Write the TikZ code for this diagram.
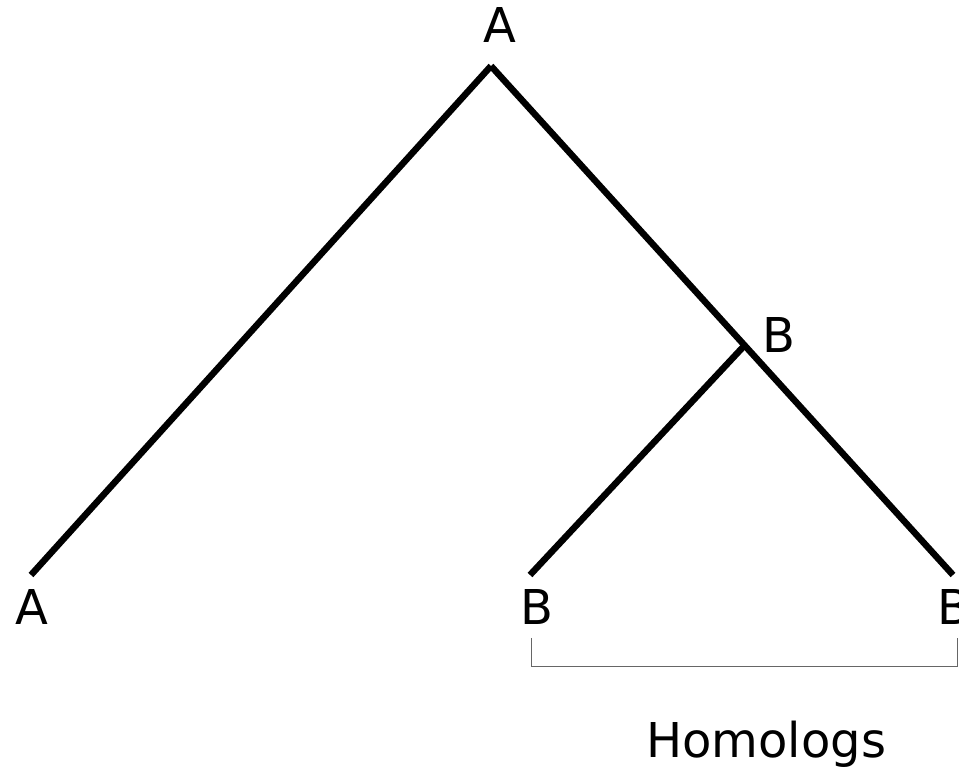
\documentclass[tikz,border=0pt]{standalone}
\usepackage{fontspec}
\setmainfont{DejaVu Sans}
\begin{document}
\begin{tikzpicture}[x=1pt,y=1pt,
  edge/.style={line width=6.5pt,line cap=butt},
  lbl/.style={anchor=base west,inner sep=0pt,font=\fontsize{48}{52}\selectfont},
  bracket/.style={line width=1pt,draw=black!60}]
\useasboundingbox (0,0) rectangle (959,768);
% tree points
\coordinate (root) at (491,702);
\coordinate (nb) at (744,422);
\coordinate (la) at (31,193);
\coordinate (lb) at (530,193);
\coordinate (rb) at (953,193);
\draw[edge] (root) -- (la);
\draw[edge] (root) -- (rb);
\draw[edge] (nb) -- (lb);
% labels
\node[lbl] (tA) at (483,725) {A};
\node[lbl] (mB) at (762,415) {B};
\node[lbl] (bA) at (15,143) {A};
\node[lbl] (bB) at (520,143) {B};
\node[lbl] (bB2) at (937,143) {B};
\node[lbl] (hom) at (646,10) {Homologs};
% bracket
\coordinate (k1) at (531,130);
\coordinate (k2) at (531,101);
\coordinate (k3) at (957,101);
\coordinate (k4) at (957,130);
\draw[bracket] (k1) -- (k2) -- (k3) -- (k4);
\end{tikzpicture}
\end{document}
